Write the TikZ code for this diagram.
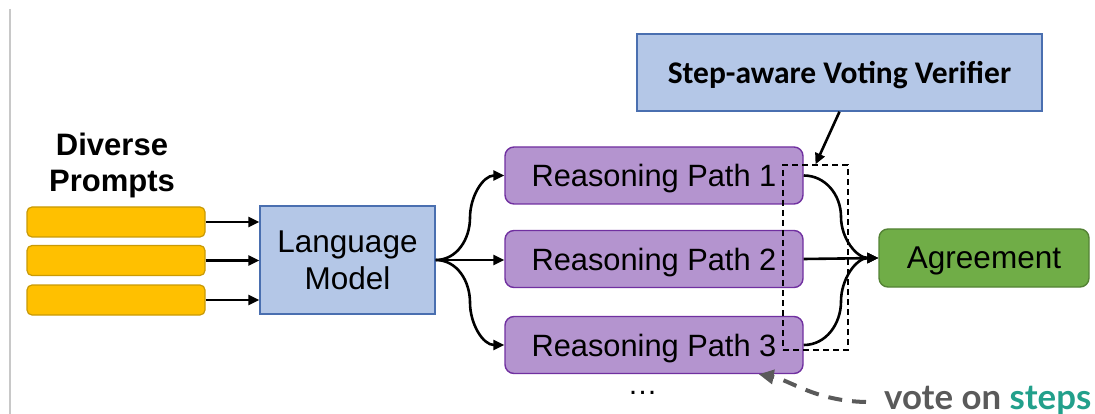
\documentclass[tikz,border=0pt]{standalone}
\usepackage{fontspec}
\setmainfont{Liberation Sans}
\newfontfamily\carlitofont{Carlito}
\newfontfamily\latofont{Lato}
\usetikzlibrary{arrows.meta,calc}

\definecolor{promptfill}{HTML}{FFC000}
\definecolor{promptline}{HTML}{C99A06}
\definecolor{modelfill}{HTML}{B4C7E7}
\definecolor{modelline}{HTML}{4A6FB0}
\definecolor{pathfill}{HTML}{B494CF}
\definecolor{pathline}{HTML}{7030A0}
\definecolor{agreefill}{HTML}{70AD47}
\definecolor{agreeline}{HTML}{548235}
\definecolor{votegray}{HTML}{5A5A5A}
\definecolor{stepteal}{HTML}{22A08B}
\definecolor{sidegray}{HTML}{C8C8C8}

\begin{document}
\begin{tikzpicture}[x=1pt,y=-1pt,
  prompt/.style={draw=promptline, fill=promptfill, line width=1.2pt,
    rounded corners=5pt, minimum width=178pt, minimum height=30pt, inner sep=0pt},
  modelbox/.style={draw=modelline, fill=modelfill, line width=1.4pt,
    minimum width=175pt, minimum height=108pt, inner sep=0pt, align=center,
    font=\fontsize{31.5}{37}\selectfont},
  pathbox/.style={draw=pathline, fill=pathfill, line width=1.4pt,
    rounded corners=9pt, minimum width=298pt, minimum height=57pt, inner sep=0pt,
    text depth=0pt, font=\fontsize{30.8}{36}\selectfont},
  agreebox/.style={draw=agreeline, fill=agreefill, line width=1.4pt,
    rounded corners=9pt, minimum width=210pt, minimum height=58pt, inner sep=0pt,
    text depth=0pt, font=\fontsize{31.5}{36}\selectfont},
  verifbox/.style={draw=modelline, fill=modelfill, line width=1.4pt,
    minimum width=405pt, minimum height=77pt, inner sep=0pt,
    text depth=0pt, font=\carlitofont\bfseries\fontsize{31.5}{36}\selectfont},
  votebox/.style={draw=black, dashed, line width=1.3pt,
    dash pattern=on 6pt off 4pt, minimum width=65pt, minimum height=185pt, inner sep=0pt},
  conn/.style={line width=2.6pt, -{Triangle[length=11pt,width=10pt]}},
  grayarrow/.style={draw=votegray, line width=4pt, dash pattern=on 14pt off 10pt,
    -{Triangle[length=15pt,width=14pt]}},
]
\useasboundingbox (0,0) rectangle (1095,414);

% thin rule on the left edge
\draw[sidegray, line width=1.5pt] (10,9) -- (10,414);

% prompts
\node[align=center, font=\bfseries\fontsize{31}{36}\selectfont] (title) at (112,165) {Diverse\\Prompts};
\node[prompt] (pa) at (116,222) {};
\node[prompt] (pb) at (116,260.5) {};
\node[prompt] (pc) at (116,300) {};

% language model
\node[modelbox] (lm) at (347.5,260) {Language\\Model};

% reasoning paths
\node[pathbox] (p1) at (654,175.5) {Reasoning Path 1};
\node[pathbox] (p2) at (654,259) {Reasoning Path 2};
\node[pathbox] (p3) at (654,345) {Reasoning Path 3};
\node[font=\fontsize{30}{36}\selectfont, anchor=base, inner sep=0pt] (dots) at (642.5,394) {…};

% agreement and verifier
\node[agreebox] (agree) at (984,258) {Agreement};
\node[verifbox] (verif) at (839.5,72.5) {Step-aware Voting Verifier};

% dashed region checked by the verifier
\node[votebox] (vote) at (815.5,257.5) {};

% prompts into the model
\draw[conn] (pa.east) -- (pa.east -| lm.west);
\draw[conn] (pb.east) -- (pb.east -| lm.west);
\draw[conn] (pc.east) -- (pc.east -| lm.west);

% model fans out to the paths
\draw[conn] (lm.east) to[out=0,in=-90] ($(lm.east)!0.5!(p1.west)$) to[out=90,in=180] (p1.west);
\draw[conn] (lm.east) -- (p2.west |- lm.east);
\draw[conn] (lm.east) to[out=0,in=90] ($(lm.east)!0.5!(p3.west)$) to[out=-90,in=180] (p3.west);

% paths merge into the agreement
\draw[conn] (p1.east) to[out=0,in=90] ($(p1.east)!0.5!(agree.west)$) to[out=-90,in=180] (agree.west);
\draw[conn] (p2.east) -- (agree.west);
\draw[conn] (p3.east) to[out=0,in=-90] ($(p3.east)!0.5!(agree.west)$) to[out=90,in=180] (agree.west);

% verifier points at the voted steps
\draw[conn] (verif.south) -- (vote.north);

% annotation
\node[anchor=base west, inner sep=0pt, font=\latofont\bfseries\fontsize{34.8}{40}\selectfont]
  (vlab) at (884,409) {\textcolor{votegray}{vote on} \textcolor{stepteal}{steps}};
\coordinate (vstart) at (866,402);
\coordinate (vend) at ($(p3.south east)+(-45,0)$);
\draw[grayarrow] (vstart) .. controls (815,401) and (790,380) .. (vend);
\end{tikzpicture}
\end{document}
